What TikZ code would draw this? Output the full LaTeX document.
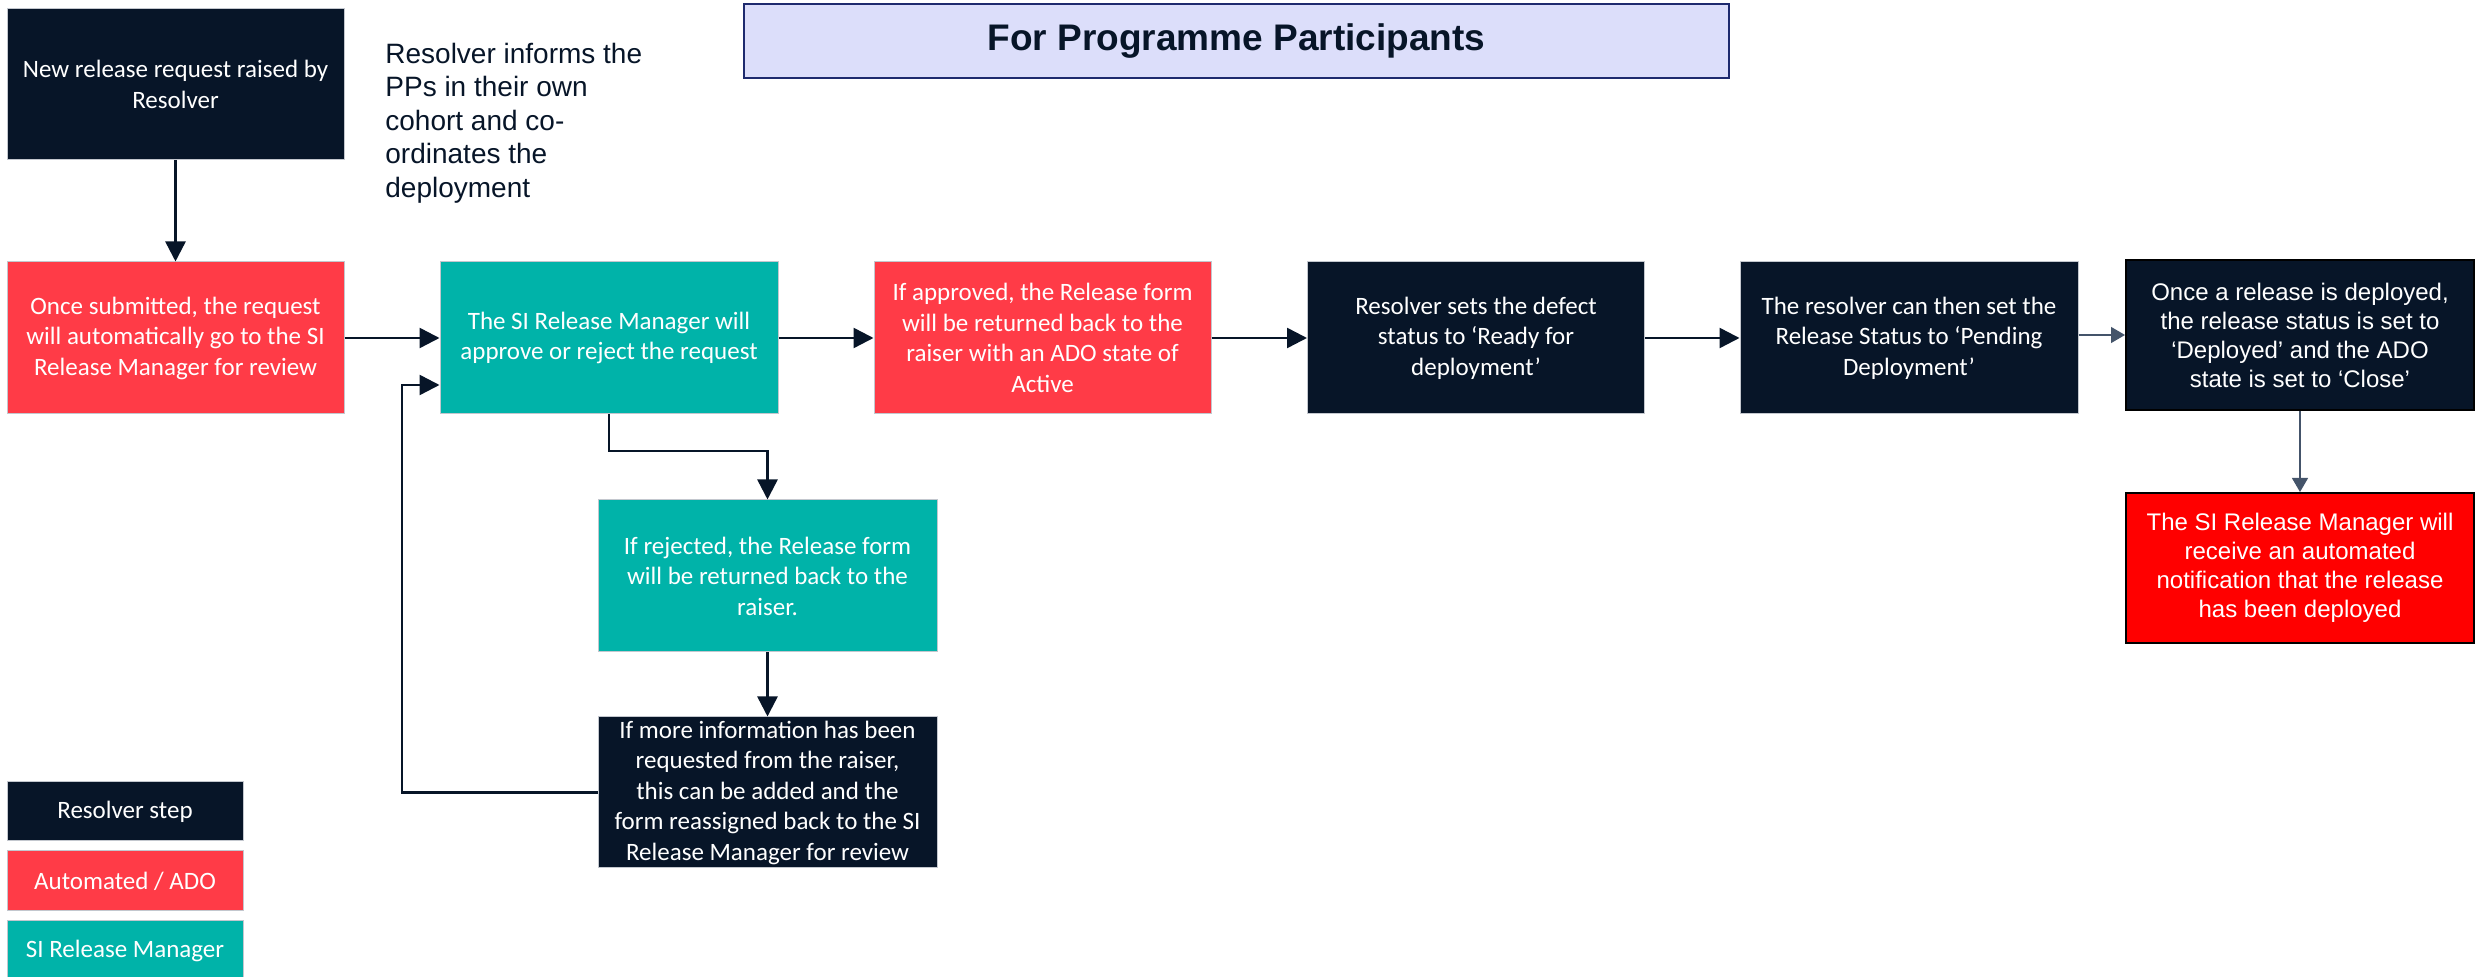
\documentclass[tikz,border=0pt]{standalone}
\usepackage{fontspec}
\setmainfont{Carlito}
\newfontfamily\arialf{Liberation Sans}
\usetikzlibrary{arrows.meta,calc}
\definecolor{navy}{HTML}{071528}
\definecolor{redA}{HTML}{FF3B47}
\definecolor{tealA}{HTML}{00B3A9}
\definecolor{boxline}{HTML}{C3C7CE}
\definecolor{titlefill}{HTML}{DCDEFA}
\definecolor{titleline}{HTML}{1E2A6E}
\definecolor{thinarrow}{HTML}{44546A}
\begin{document}
\begin{tikzpicture}[x=0.5pt,y=-0.5pt,
  box/.style={draw=boxline, line width=0.5pt, inner sep=0pt, align=center, text=white,
    font=\fontsize{12.5}{15.25}\selectfont},
  navybox/.style={box, fill=navy},
  redbox/.style={box, fill=redA},
  tealbox/.style={box, fill=tealA},
  stdsize/.style={minimum width=168.5pt, minimum height=76pt},
  arialbox/.style={draw=black, line width=1pt, inner sep=0pt, align=center, text=white,
    font=\arialf\fontsize{12}{14.5}\selectfont, minimum width=174pt, minimum height=75pt},
  flow/.style={draw=navy, line width=1.25pt, -{Triangle[length=10pt,width=10pt]}},
  thinflow/.style={draw=thinarrow, line width=0.6pt, -{Triangle[length=7pt,width=8pt]}}
]
\useasboundingbox (0,0) rectangle (2481,977);

% title
\node[draw=titleline, line width=1pt, fill=titlefill, minimum width=492.5pt, minimum height=37pt,
  inner sep=0pt, text=navy, font=\arialf\bfseries\fontsize{18.5}{22}\selectfont]
  (title) at (1236.5,41) {For Programme Participants};

% side note
\node[anchor=west, inner sep=0pt, align=left, text=navy, font=\arialf\fontsize{14}{16.75}\selectfont]
  (note) at (385,123) {Resolver informs the\\PPs in their own\\cohort and co-\\ordinates the\\deployment};

% boxes
\node[navybox, stdsize, minimum height=75.5pt] (A) at (175.5,84.5) {New release request raised by\\Resolver};
\node[redbox, stdsize] (B) at (175.5,338) {Once submitted, the request\\will automatically go to the SI\\Release Manager for review};
\node[tealbox, stdsize, minimum width=169pt] (C) at (609,338) {The SI Release Manager will\\approve or reject the request};
\node[redbox, stdsize] (D) at (1042.5,338) {If approved, the Release form\\will be returned back to the\\raiser with an ADO state of\\Active};
\node[navybox, stdsize] (E) at (1476,338) {Resolver sets the defect\\status to ‘Ready for\\deployment’};
\node[navybox, stdsize, minimum width=169pt] (F) at (1909,338) {The resolver can then set the\\Release Status to ‘Pending\\Deployment’};
\node[arialbox, fill=navy] (G) at (2300,335) {Once a release is deployed,\\the release status is set to\\‘Deployed’ and the ADO\\state is set to ‘Close’};
\node[arialbox, fill=red] (H) at (2300,568) {The SI Release Manager will\\receive an automated\\notification that the release\\has been deployed};
\node[tealbox, stdsize, minimum width=169.5pt] (I) at (767.5,576) {If rejected, the Release form\\will be returned back to the\\raiser.};
\node[navybox, stdsize, minimum width=169.5pt, minimum height=75.5pt] (J) at (767.5,792.5) {If more information has been\\requested from the raiser,\\this can be added and the\\form reassigned back to the SI\\Release Manager for review};

% legend
\node[navybox, minimum width=118pt, minimum height=29.5pt] (L1) at (125,811.5) {Resolver step};
\node[redbox, minimum width=118pt, minimum height=30pt] (L2) at (125,881) {Automated / ADO};
\node[tealbox, minimum width=118pt, minimum height=30pt] (L3) at (125,951) {SI Release Manager};

% connectors
\coordinate (cturn) at (609,451);
\coordinate (fbL) at (402,792.5);
\coordinate (fbT) at (402,385);

\draw[flow] (A) -- (B);
\draw[flow] (B) -- (C);
\draw[flow] (C) -- (D);
\draw[flow] (D) -- (E);
\draw[flow] (E) -- (F);
\draw[thinflow] (F.east |- G.west) -- (G.west);
\draw[thinflow] (G) -- (H);
\draw[flow] (C.south) -- (cturn) -| (I.north);
\draw[flow] (I) -- (J);
\draw[flow] (J.west) -- (fbL) -- (fbT) -- (C.west |- fbT);
\end{tikzpicture}
\end{document}
